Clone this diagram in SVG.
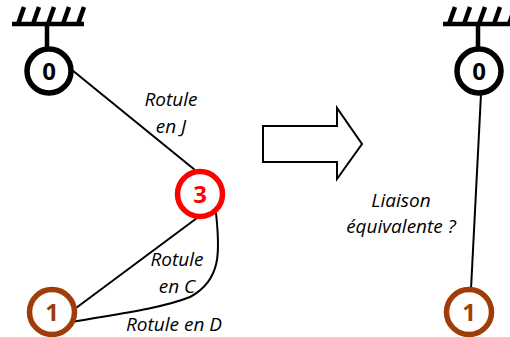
<svg xmlns="http://www.w3.org/2000/svg" width="510" height="337" viewBox="0 0 510 337">
<style>
.ln{fill:none;stroke:#000;stroke-width:2}
.gr{fill:none;stroke:#000;stroke-width:4.5}
.n{fill:#fff;stroke-width:5.5}
.num{font:bold 24px "Open Sans","Liberation Sans",sans-serif;text-anchor:middle}
.lb{font:italic 19px "Open Sans","Liberation Sans",sans-serif;text-anchor:middle;fill:#000}
</style>
<defs>
<g id="ground"><path class="gr" d="M-36 24H36M-1 24V48M-30 24L-24 7M-15 24L-9 7M0 24L6 7M15 24L21 7M30 24L36 7"/></g>
</defs>
<g id="connectors">
<path class="ln" d="M72 70L195 170"/>
<path class="ln" d="M197 218L76 308"/>
<path class="ln" d="M216 213C220 250 222 280 190 297C160 309 110 315 72 322"/>
<path class="ln" d="M481 94L471 289"/>
</g>
<g id="ground-left"><use href="#ground" x="48"/></g>
<g id="ground-right"><use href="#ground" x="479"/></g>
<g id="node-0-left"><circle class="n" cx="49" cy="71" r="22" stroke="#000"/><text class="num" x="49" y="80" fill="#000">0</text></g>
<g id="node-3"><circle class="n" cx="200" cy="194" r="22.5" stroke="#f00"/><text class="num" x="200" y="203" fill="#f00">3</text></g>
<g id="node-1-left"><circle class="n" cx="52" cy="312" r="22.5" stroke="#a03c08"/><text class="num" x="52" y="321" fill="#a03c08">1</text></g>
<g id="node-0-right"><circle class="n" cx="479" cy="71" r="22" stroke="#000"/><text class="num" x="479" y="80" fill="#000">0</text></g>
<g id="node-1-right"><circle class="n" cx="469" cy="312" r="22.5" stroke="#a03c08"/><text class="num" x="469" y="321" fill="#a03c08">1</text></g>
<g id="arrow"><path d="M263 126H337V108L362 144L337 179V162H263Z" fill="#fff" stroke="#000" stroke-width="2"/></g>
<g id="labels">
<text class="lb" x="171" y="106">Rotule</text>
<text class="lb" x="171" y="133">en J</text>
<text class="lb" x="177" y="266">Rotule</text>
<text class="lb" x="177" y="293">en C</text>
<text class="lb" x="174" y="331">Rotule en D</text>
<text class="lb" x="401" y="207">Liaison</text>
<text class="lb" x="401" y="233">équivalente ?</text>
</g>
</svg>
